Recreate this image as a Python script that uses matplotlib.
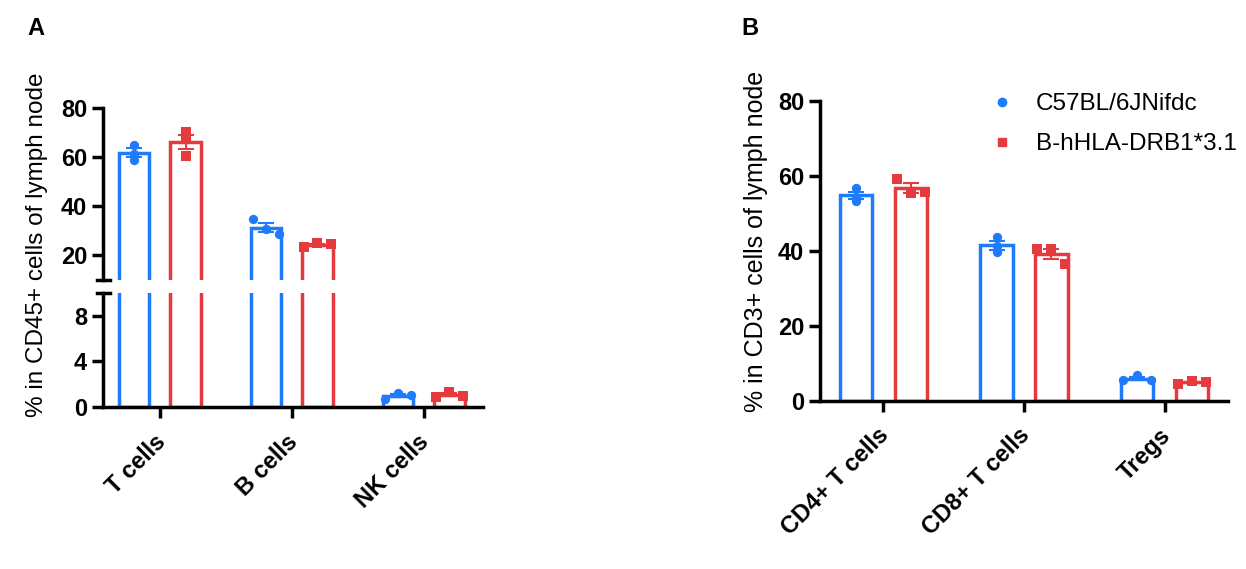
import numpy as np
import matplotlib
matplotlib.use('Agg')
import matplotlib.pyplot as plt
import matplotlib.transforms as mtrans

plt.rcParams['font.family'] = ['Liberation Sans', 'DejaVu Sans']

groups = ['C57BL/6JNifdc', 'B-hHLA-DRB1*3.1']
colors = ['#1F7BFA', '#E63B3E']
markers = ['o', 's']

# panel A: % in CD45+ cells of lymph node
cats_a = ['T cells', 'B cells', 'NK cells']
a_wt = [[65.0, 61.4, 58.7], [34.7, 30.6, 28.8], [0.7, 1.2, 1.05]]
a_hu = [[70.2, 67.5, 60.6], [23.3, 24.9, 24.5], [0.9, 1.3, 1.0]]
a_spread_wt = [False, True, True]
a_spread_hu = [False, True, True]

# panel B: % in CD3+ cells of lymph node
cats_b = ['CD4+ T cells', 'CD8+ T cells', 'Tregs']
b_wt = [[56.7, 54.5, 53.3], [43.6, 41.4, 39.6], [5.5, 6.8, 5.6]]
b_hu = [[59.2, 55.4, 55.8], [40.4, 40.4, 36.5], [4.6, 5.2, 5.0]]
b_spread_wt = [False, False, True]
b_spread_hu = [True, True, True]

W = 0.23
OFF = 0.195
LW = 2.5
FS = 17


def draw_bars(ax, data_list, spread_list):
    for g, (vals, spreads) in enumerate(zip(data_list, spread_list)):
        for i, (pts, sp) in enumerate(zip(vals, spreads)):
            x = i + (-OFF if g == 0 else OFF)
            pts = np.array(pts)
            m = pts.mean()
            sem = pts.std(ddof=1) / np.sqrt(len(pts))
            ax.bar(x, m, width=W, facecolor='white', edgecolor=colors[g],
                   linewidth=LW, zorder=2)
            ax.errorbar(x, m, yerr=sem, color=colors[g], capsize=6,
                        elinewidth=1.5, capthick=1.5, zorder=3, fmt='none')
            if sp:
                xs = x + np.array([-0.1, 0.0, 0.1])
            else:
                xs = np.full(len(pts), x)
            ax.scatter(xs, pts, marker=markers[g], color=colors[g], s=45,
                       zorder=4, linewidths=0, clip_on=True)


def style(ax):
    for s in ['top', 'right']:
        ax.spines[s].set_visible(False)
    for s in ['left', 'bottom']:
        ax.spines[s].set_linewidth(2.5)
    ax.tick_params(width=2.5, length=8, labelsize=FS)


def xlabels(ax, labels):
    ax.set_xticks(range(len(labels)))
    ax.set_xticklabels(labels, rotation=45, ha='right', rotation_mode='anchor',
                       fontweight='bold', fontsize=FS)
    shift = mtrans.ScaledTranslation(-6 / 100, -7 / 100, fig.dpi_scale_trans)
    for lab in ax.get_xticklabels():
        lab.set_transform(lab.get_transform() + shift)


fig = plt.figure(figsize=(12.46, 5.69), dpi=100)

# panel A - broken axis
ax_up = fig.add_axes([0.0827, 0.5079, 0.305, 0.3023])
ax_lo = fig.add_axes([0.0827, 0.2847, 0.305, 0.2004])
for ax in (ax_up, ax_lo):
    draw_bars(ax, [a_wt, a_hu], [a_spread_wt, a_spread_hu])
    ax.set_xlim(-0.43, 2.45)
    style(ax)
ax_up.set_ylim(10, 80)
ax_up.set_yticks([20, 40, 60, 80])
ax_up.spines['bottom'].set_visible(False)
ax_up.tick_params(axis='x', bottom=False, labelbottom=False)
ax_lo.set_ylim(0, 10)
ax_lo.set_yticks([0, 4, 8])
for ax in (ax_up, ax_lo):
    for lab in ax.get_yticklabels():
        lab.set_fontweight('bold')
ax_up.plot([-0.017, 0.017], [0, 0], transform=ax_up.transAxes, color='black',
           lw=2.5, clip_on=False)
ax_lo.plot([-0.017, 0.017], [1, 1], transform=ax_lo.transAxes, color='black',
           lw=2.5, clip_on=False)
xlabels(ax_lo, cats_a)
fig.text(0.030, 0.57, '% in CD45+ cells of lymph node', rotation=90,
         ha='center', va='center', fontsize=17.5)

# panel B
axb = fig.add_axes([0.6581, 0.2953, 0.3274, 0.5272])
draw_bars(axb, [b_wt, b_hu], [b_spread_wt, b_spread_hu])
axb.set_xlim(-0.45, 2.45)
axb.set_ylim(0, 80)
axb.set_yticks([0, 20, 40, 60, 80])
style(axb)
for lab in axb.get_yticklabels():
    lab.set_fontweight('bold')
xlabels(axb, cats_b)
axb.set_ylabel('% in CD3+ cells of lymph node', fontsize=18)
axb.yaxis.set_label_coords(-0.128, 0.533)

handles = [plt.Line2D([], [], ls='none', marker=markers[g], color=colors[g],
                      markersize=6) for g in range(2)]
axb.legend(handles, groups, loc='upper left', bbox_to_anchor=(0.777, 0.875),
           bbox_transform=fig.transFigure, frameon=False, fontsize=17.5,
           handlelength=1.0, handletextpad=0.9, labelspacing=0.75)

fig.text(0.022, 0.95, 'A', fontsize=17, fontweight='bold', va='center')
fig.text(0.595, 0.95, 'B', fontsize=17, fontweight='bold', va='center')

fig.savefig('out.png', dpi=100)
